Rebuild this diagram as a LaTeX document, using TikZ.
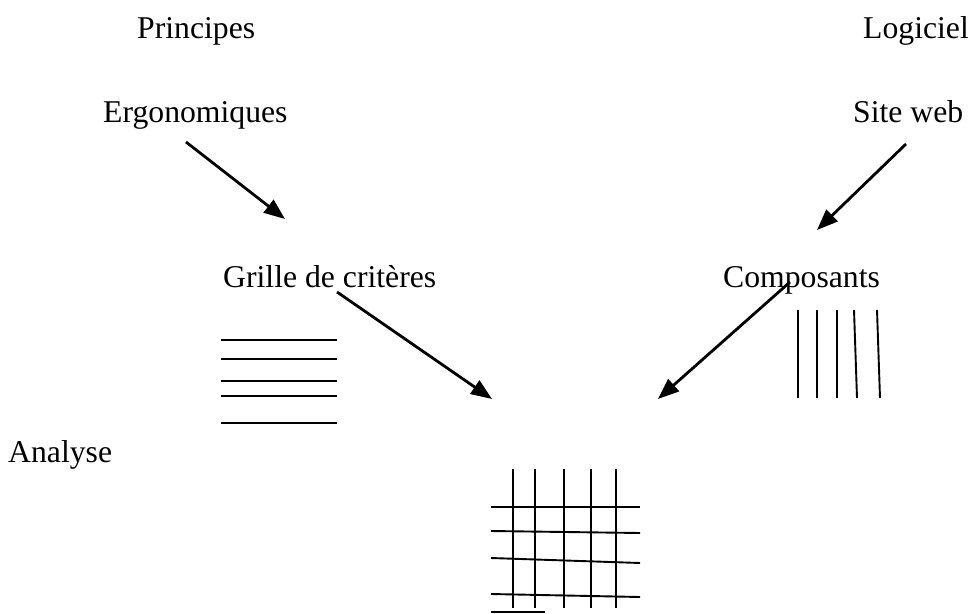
\documentclass[tikz,border=0pt]{standalone}
\usepackage{fontspec}
\setmainfont{Liberation Serif}
\usetikzlibrary{arrows.meta}
\begin{document}
\begin{tikzpicture}[x=1pt,y=-1pt,
  lbl/.style={anchor=base west,inner sep=0pt,font=\fontsize{31.7}{36}\selectfont},
  arr/.style={line width=2.8pt,-{Triangle[length=21pt,width=16pt]}},
  hatch/.style={line width=1.9pt}]
\useasboundingbox (0,0) rectangle (968,613);
% texts
\node[lbl] (princ) at (137,38) {Principes};
\node[lbl] (ergo) at (103,122) {Ergonomiques};
\node[lbl] (logi) at (863,38) {Logiciel};
\node[lbl] (site) at (853,122) {Site web};
\node[lbl] (grille) at (223,287) {Grille de critères};
\node[lbl] (comp) at (723,287) {Composants};
\node[lbl] (anal) at (8,462) {Analyse};
% arrow ends
\coordinate (a1s) at (186,142);
\coordinate (a1e) at (285,219);
\coordinate (a2s) at (906,144);
\coordinate (a2e) at (817,230);
\coordinate (a3s) at (337,292);
\coordinate (a3e) at (492,399);
\coordinate (a4s) at (790,282);
\coordinate (a4e) at (658,399);
\draw[arr] (a1s) -- (a1e);
\draw[arr] (a2s) -- (a2e);
\draw[arr] (a3s) -- (a3e);
\draw[arr] (a4s) -- (a4e);
% left horizontal lines
\foreach \y in {340,359,381,396,423} \draw[hatch] (221,\y) -- (337,\y);
% right vertical lines
\draw[hatch] (798,310) -- (798,398);
\draw[hatch] (817,310) -- (817,398);
\draw[hatch] (837,310) -- (837,398);
\draw[hatch] (854,310) -- (857,398);
\draw[hatch] (877,310) -- (880,398);
% grid
\foreach \x in {513,535,564,591,616} \draw[hatch] (\x,469) -- (\x,608);
\draw[hatch] (491,507) -- (640,507);
\draw[hatch] (491,531) -- (640,533);
\draw[hatch] (491,558) -- (640,563);
\draw[hatch] (491,594) -- (640,597);
\draw[hatch] (491,612) -- (545,612);
\end{tikzpicture}
\end{document}
